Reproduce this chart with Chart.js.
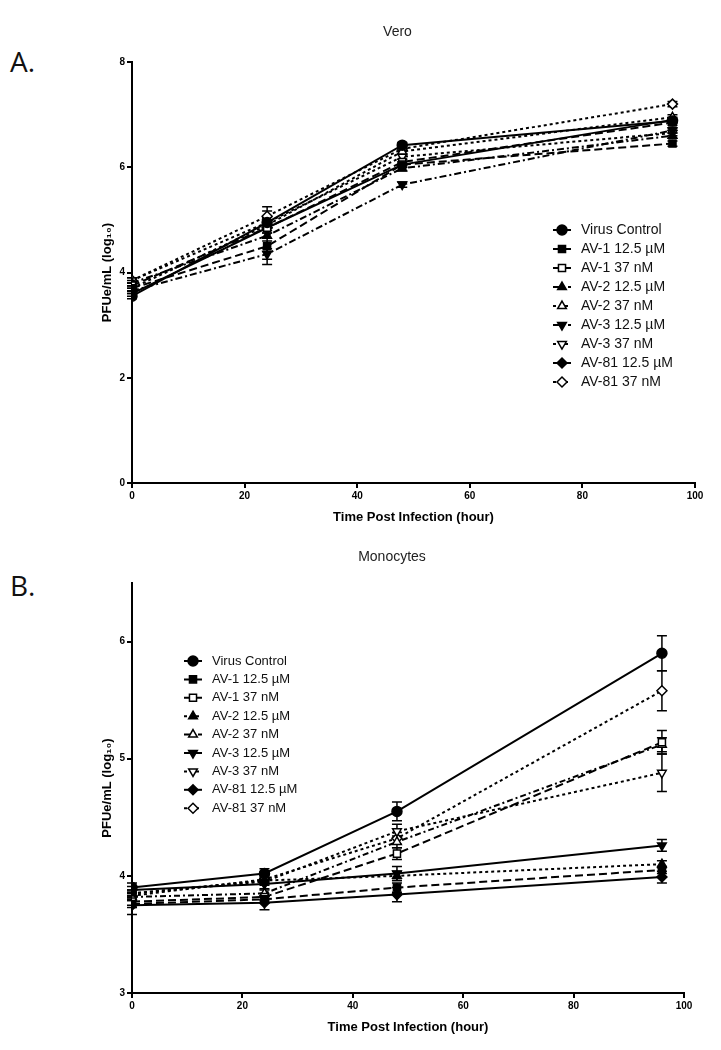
<!DOCTYPE html>
<html>
<head>
<meta charset="utf-8">
<script src="https://cdn.jsdelivr.net/npm/chart.js@4.4.1/dist/chart.umd.min.js"></script>
<style>
  body { margin: 0; background: #fff; width: 721px; height: 1050px; position: relative; overflow: hidden; }
  .panel { position: absolute; left: 10px; font-family: "Open Sans", sans-serif; font-size: 28px; color: #111; }
  .box { position: absolute; left: 0; width: 721px; height: 525px; }
</style>
</head>
<body>
<div class="panel" style="top:42px">A.</div>
<div class="panel" style="top:566px">B.</div>
<div class="box" style="top:0"><canvas id="vero"></canvas></div>
<div class="box" style="top:525px"><canvas id="mono"></canvas></div>

<script>
// time points (hours post infection)
const hours = [0, 24, 48, 96];

const seriesNames = [
  "Virus Control", "AV-1 12.5 \u00b5M", "AV-1 37 nM", "AV-2 12.5 \u00b5M", "AV-2 37 nM",
  "AV-3 12.5 \u00b5M", "AV-3 37 nM", "AV-81 12.5 \u00b5M", "AV-81 37 nM"
];

// Vero, PFUe/mL (log10), one row per series
const veroMeans = [
  [3.55, 4.95, 6.42, 6.88],
  [3.70, 4.50, 6.05, 6.45],
  [3.75, 4.85, 6.10, 6.85],
  [3.80, 4.70, 5.98, 6.60],
  [3.70, 4.90, 6.30, 6.95],
  [3.65, 4.35, 5.67, 6.70],
  [3.85, 4.95, 6.20, 6.65],
  [3.60, 4.85, 6.05, 6.90],
  [3.85, 5.07, 6.35, 7.20]
];
const veroErrors = [
  [0.05, 0.10, 0.05, 0.05],
  [0.05, 0.10, 0.05, 0.05],
  [0.05, 0.10, 0.05, 0.05],
  [0.05, 0.55, 0.05, 0.05],
  [0.05, 0.10, 0.05, 0.05],
  [0.05, 0.10, 0.05, 0.05],
  [0.05, 0.10, 0.05, 0.05],
  [0.05, 0.10, 0.05, 0.05],
  [0.05, 0.10, 0.05, 0.05]
];

// Monocytes, PFUe/mL (log10)
const monoMeans = [
  [3.90, 4.02, 4.55, 5.90],
  [3.76, 3.80, 3.90, 4.05],
  [3.78, 3.82, 4.19, 5.14],
  [3.85, 3.96, 4.00, 4.10],
  [3.82, 3.85, 4.29, 5.12],
  [3.88, 3.93, 4.02, 4.26],
  [3.85, 3.95, 4.38, 4.88],
  [3.75, 3.77, 3.84, 3.99],
  [3.83, 3.97, 4.32, 5.58]
];
const monoErrors = [
  [0.04, 0.04, 0.08, 0.15],
  [0.03, 0.03, 0.04, 0.03],
  [0.03, 0.03, 0.05, 0.10],
  [0.03, 0.03, 0.04, 0.03],
  [0.03, 0.03, 0.05, 0.06],
  [0.03, 0.04, 0.06, 0.05],
  [0.03, 0.03, 0.06, 0.16],
  [0.08, 0.06, 0.06, 0.05],
  [0.03, 0.03, 0.05, 0.17]
];

const veroTicks = [0, 2, 4, 6, 8];
const monoTicks = [3, 4, 5, 6];
const timeTicks = [0, 20, 40, 60, 80, 100];

// marker look per series
const markers = [
  { style: "circle", rot: 0, open: false },
  { style: "rect", rot: 0, open: false },
  { style: "rect", rot: 0, open: true },
  { style: "triangle", rot: 0, open: false },
  { style: "triangle", rot: 0, open: true },
  { style: "triangle", rot: 180, open: false },
  { style: "triangle", rot: 180, open: true },
  { style: "rectRot", rot: 0, open: false },
  { style: "rectRot", rot: 0, open: true }
];
const veroDashes = [[], [8, 4], [8, 4], [7, 3, 2, 3], [3, 3], [7, 3, 2, 3], [3, 3], [], [3, 3]];
const monoDashes = [[], [8, 4], [8, 4], [3, 3], [6, 3, 2, 3], [], [3, 3], [], [3, 3]];

const FONT = '"Liberation Sans", Arial, sans-serif';

const errorBars = {
  id: "errorBars",
  beforeDatasetsDraw(chart) {
    const { ctx, scales: { x, y } } = chart;
    ctx.save();
    ctx.strokeStyle = "#000";
    ctx.lineWidth = 1.5;
    chart.data.datasets.forEach(ds => {
      ds.errors.forEach((e, i) => {
        if (!e) return;
        const px = x.getPixelForValue(ds.data[i].x);
        const top = y.getPixelForValue(ds.data[i].y + e);
        const bot = y.getPixelForValue(ds.data[i].y - e);
        ctx.beginPath();
        ctx.moveTo(px, top); ctx.lineTo(px, bot);
        ctx.moveTo(px - 5, top); ctx.lineTo(px + 5, top);
        ctx.moveTo(px - 5, bot); ctx.lineTo(px + 5, bot);
        ctx.stroke();
      });
    });
    ctx.restore();
  }
};

const boxLegend = {
  id: "boxLegend",
  afterDraw(chart, args, opts) {
    const ctx = chart.ctx;
    ctx.save();
    chart.data.datasets.forEach((ds, i) => {
      const y = opts.y + i * opts.step;
      ctx.strokeStyle = "#000";
      ctx.lineWidth = 2;
      ctx.setLineDash(ds.borderDash);
      ctx.beginPath();
      ctx.moveTo(opts.x - 9, y); ctx.lineTo(opts.x + 9, y);
      ctx.stroke();
      ctx.setLineDash([]);
      ctx.fillStyle = ds.pointBackgroundColor;
      ctx.lineWidth = 1.5;
      Chart.helpers.drawPoint(ctx, { pointStyle: ds.pointStyle, rotation: ds.pointRotation, radius: 5, borderWidth: 1.5 }, opts.x, y);
      ctx.fillStyle = "#111";
      ctx.font = opts.size + "px " + FONT;
      ctx.textBaseline = "middle";
      ctx.fillText(ds.label, opts.x + 19, y);
    });
    ctx.restore();
  }
};

function makeDatasets(means, errors, dashes) {
  return seriesNames.map((name, i) => ({
    label: name,
    data: hours.map((h, j) => ({ x: h, y: means[i][j] })),
    errors: errors[i],
    borderColor: "#000",
    borderWidth: 2,
    borderDash: dashes[i],
    pointStyle: markers[i].style,
    pointRotation: markers[i].rot,
    pointRadius: 5,
    pointBorderWidth: 1.5,
    pointBorderColor: "#000",
    pointBackgroundColor: markers[i].open ? "#fff" : "#000",
    tension: 0,
    fill: false
  }));
}

function makeChart(id, cfg) {
  new Chart(document.getElementById(id), {
    type: "line",
    data: { datasets: makeDatasets(cfg.means, cfg.errors, cfg.dashes) },
    plugins: [errorBars, boxLegend],
    options: {
      responsive: true,
      maintainAspectRatio: false,
      animation: false,
      layout: { padding: { left: 100, right: cfg.right, top: 0, bottom: cfg.bottom } },
      plugins: {
        legend: { display: false },
        tooltip: { enabled: false },
        title: {
          display: true, text: cfg.title, color: "#222",
          font: { family: FONT, size: 14, weight: "normal" },
          padding: { top: 24, bottom: cfg.titleGap }
        },
        boxLegend: cfg.legend
      },
      scales: {
        x: {
          type: "linear", min: 0, max: 100,
          afterBuildTicks: s => { s.ticks = timeTicks.map(v => ({ value: v })); },
          ticks: { color: "#000", padding: 2, font: { family: FONT, size: 10, weight: "bold" } },
          grid: { drawOnChartArea: false, drawTicks: true, tickLength: 5, color: "#000", lineWidth: 2 },
          border: { color: "#000", width: 2 },
          title: {
            display: true, text: "Time Post Infection (hour)", color: "#000",
            font: { family: FONT, size: 13, weight: "bold" }, padding: { top: 3, bottom: 0 }
          },
          afterFit: s => { s.height = 42; }
        },
        y: {
          type: "linear", min: cfg.yMin, max: cfg.yMax,
          afterBuildTicks: s => { s.ticks = cfg.yTicks.map(v => ({ value: v })); },
          ticks: { color: "#000", padding: 2, font: { family: FONT, size: 10, weight: "bold" } },
          grid: { drawOnChartArea: false, drawTicks: true, tickLength: 5, color: "#000", lineWidth: 2 },
          border: { color: "#000", width: 2 },
          title: {
            display: true, text: "PFUe/mL (log\u2081\u2080)", color: "#000",
            font: { family: FONT, size: 13, weight: "bold" }, padding: 0
          },
          afterFit: s => { s.width = 32; }
        }
      }
    }
  });
}

makeChart("vero", {
  title: "Vero", means: veroMeans, errors: veroErrors, dashes: veroDashes,
  yMin: 0, yMax: 8, yTicks: veroTicks, right: 26, bottom: 0, titleGap: 21.2,
  legend: { x: 562, y: 230, step: 19, size: 14 }
});

makeChart("mono", {
  title: "Monocytes", means: monoMeans, errors: monoErrors, dashes: monoDashes,
  yMin: 3, yMax: 6.5, yTicks: monoTicks, right: 37, bottom: 15, titleGap: 17.2,
  legend: { x: 193, y: 136, step: 18.4, size: 13 }
});
</script>
</body>
</html>
